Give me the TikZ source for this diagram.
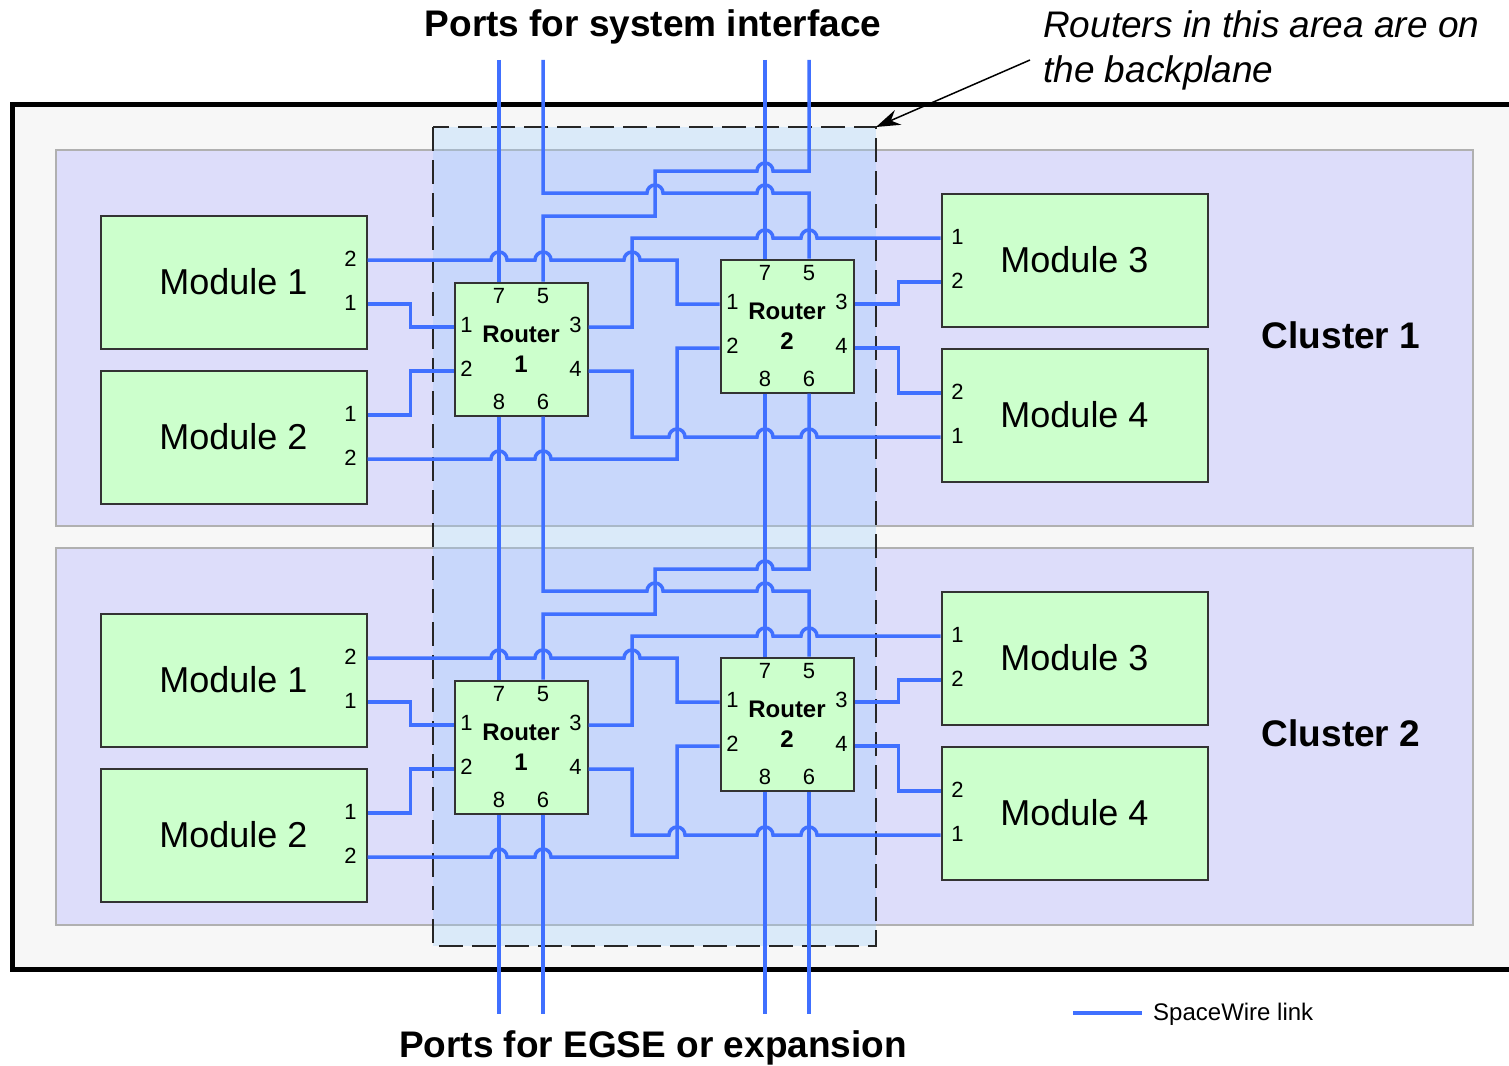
\documentclass[tikz,border=0pt]{standalone}
\usepackage{fontspec}
\setmainfont{Liberation Sans}
\usetikzlibrary{arrows.meta}
\definecolor{wireblue}{RGB}{64,112,255}
\definecolor{modgreen}{RGB}{204,255,204}
\definecolor{boxedge}{RGB}{51,51,51}
\definecolor{clusterfill}{RGB}{221,221,250}
\definecolor{clusteredge}{RGB}{176,176,176}
\definecolor{framefill}{RGB}{247,247,247}
\definecolor{planeblue}{RGB}{153,204,255}
% a link hopping over a vertical link at x=#1 on the level y=#2
\newcommand{\hop}[2]{-- (#1-8,#2) arc[start angle=180,end angle=0,radius=8pt]}
\tikzset{
  link/.style={draw=wireblue, line width=3.5pt},
  module/.style={draw=boxedge, fill=modgreen, line width=2pt, minimum width=266pt, minimum height=133pt, font=\fontsize{36}{40}\selectfont},
  router/.style={draw=boxedge, fill=modgreen, line width=2pt, minimum width=133pt, minimum height=133pt, align=center, font=\bfseries\fontsize{24}{30}\selectfont},
  pnum/.style={inner sep=0pt, font=\fontsize{22}{24}\selectfont},
  heading/.style={inner sep=0pt, font=\bfseries\fontsize{37}{40}\selectfont},
  note/.style={inner sep=0pt, align=left, font=\itshape\fontsize{37}{45}\selectfont},
  cluster/.style={fill=clusterfill, draw=clusteredge, line width=2pt},
  backplane/.style={fill=planeblue, fill opacity=0.3, draw=black!85, draw opacity=1, line width=2.2pt, dash pattern=on 24pt off 9pt},
  pointer/.style={draw=black, line width=1.5pt, -{Stealth[length=24pt,width=16pt]}},
}
\begin{document}
\begin{tikzpicture}[x=1pt,y=-1pt]
\useasboundingbox (0,0) rectangle (1509,1065);
\fill[white] (0,0) rectangle (1509,1065);
% chassis
\draw[fill=framefill, line width=5pt] (12,104) rectangle (1540,969);
% cluster panels
\draw[cluster] (56,150) rectangle (1473,526);
\draw[cluster] (56,548) rectangle (1473,925);
% backplane area
\draw[backplane] (433,127) rectangle (876,946);
\coordinate (bpcorner) at (876,127);

\node[heading, anchor=base] (sysports) at (653,37) {Ports for system interface};
\node[heading, anchor=base] (egseports) at (653,1057) {Ports for EGSE or expansion};
\node[note, anchor=base west] (bpnote) at (1043,82) {Routers in this area are on\\the backplane};
\coordinate (notetail) at (1030,60);
\draw[pointer] (notetail) -- (bpcorner);

% system interface ports
\coordinate (top1-a) at (499,60);
\coordinate (top1-b) at (543,60);
\coordinate (top1-c) at (765,60);
\coordinate (top1-d) at (809,60);

\foreach \cl/\dy in {1/0,2/398} {
\pgfmathtruncatemacro{\nx}{\cl+1}
\begin{scope}[yshift=-\dy pt]
  \node[heading] (cluster\cl) at (1341,335) {Cluster \cl};
  % modules
  \foreach \md/\pos/\side/\pa/\pb/\lx in {1/{233.5,282}/east/2/1/-17, 2/{233.5,437}/east/1/2/-17,
                                          3/{1074.5,260}/west/1/2/17, 4/{1074.5,415}/west/2/1/17} {
    \node[module] (m\md-\cl) at (\pos) {Module \md};
    \coordinate (m\md-\cl-p\pa) at ([yshift=22pt]m\md-\cl.\side);
    \coordinate (m\md-\cl-p\pb) at ([yshift=-22pt]m\md-\cl.\side);
    \node[pnum] at ([xshift=\lx pt,yshift=1pt]m\md-\cl-p\pa) {\pa};
    \node[pnum] at ([xshift=\lx pt,yshift=1pt]m\md-\cl-p\pb) {\pb};
  }
  % routers
  \foreach \rt/\pos in {1/{521,349}, 2/{787,326}} {
    \node[router] (r\rt-\cl) at (\pos) {Router\\\rt};
    \coordinate (r\rt-\cl-p1) at ([yshift=22pt]r\rt-\cl.west);
    \coordinate (r\rt-\cl-p2) at ([yshift=-22pt]r\rt-\cl.west);
    \coordinate (r\rt-\cl-p3) at ([yshift=22pt]r\rt-\cl.east);
    \coordinate (r\rt-\cl-p4) at ([yshift=-22pt]r\rt-\cl.east);
    \coordinate (r\rt-\cl-p7) at ([xshift=-22pt]r\rt-\cl.north);
    \coordinate (r\rt-\cl-p5) at ([xshift=22pt]r\rt-\cl.north);
    \coordinate (r\rt-\cl-p8) at ([xshift=-22pt]r\rt-\cl.south);
    \coordinate (r\rt-\cl-p6) at ([xshift=22pt]r\rt-\cl.south);
    \foreach \p/\dx/\dz in {1/13/2, 2/13/2, 3/-13/2, 4/-13/2, 7/0/-14.5, 5/0/-14.5, 8/0/15, 6/0/15}
      \node[pnum] at ([xshift=\dx pt,yshift=\dz pt]r\rt-\cl-p\p) {\p};
  }
  % links
  \draw[link] (top\cl-a) -- (r1-\cl-p7);
  \draw[link] (top\cl-b) -- (543,193) \hop{655}{193} \hop{765}{193} -| (r2-\cl-p5);
  \draw[link] (top\cl-c) -- (r2-\cl-p7);
  \draw[link] (r1-\cl-p5) |- (655,216) -- (655,171) \hop{765}{171} -| (top\cl-d);
  \draw[link] (r1-\cl-p3) -| (632,238) \hop{765}{238} \hop{809}{238} -- (m3-\cl-p1);
  \draw[link] (m1-\cl-p2) \hop{499}{260} \hop{543}{260} \hop{632}{260} -| (677,304) -- (r2-\cl-p1);
  \draw[link] (m1-\cl-p1) -- ++(43,0) |- (r1-\cl-p1);
  \draw[link] (m2-\cl-p1) -- ++(43,0) |- (r1-\cl-p2);
  \draw[link] (m2-\cl-p2) \hop{499}{459} \hop{543}{459} -| (677,348) -- (r2-\cl-p2);
  \draw[link] (r1-\cl-p4) -| (632,437) \hop{677}{437} \hop{765}{437} \hop{809}{437} -- (m4-\cl-p1);
  \draw[link] (r2-\cl-p3) -- ++(44,0) |- (m3-\cl-p2);
  \draw[link] (r2-\cl-p4) -- ++(44,0) |- (m4-\cl-p2);
  % ports handed on downwards
  \coordinate (top\nx-a) at (r1-\cl-p8);
  \coordinate (top\nx-b) at (r1-\cl-p6);
  \coordinate (top\nx-c) at (r2-\cl-p8);
  \coordinate (top\nx-d) at (r2-\cl-p6);
\end{scope}
}
% EGSE / expansion ports
\coordinate (botlevel) at (0,1014);
\foreach \k in {a,b,c,d}
  \draw[link] (top3-\k) -- (top3-\k |- botlevel);

% legend
\coordinate (legend) at (1073,1013);
\node[anchor=base west, inner sep=0pt, font=\fontsize{24}{28}\selectfont] (legendtxt) at (1153,1020) {SpaceWire link};
\draw[link] (legend) -- ++(69,0);
\end{tikzpicture}
\end{document}
